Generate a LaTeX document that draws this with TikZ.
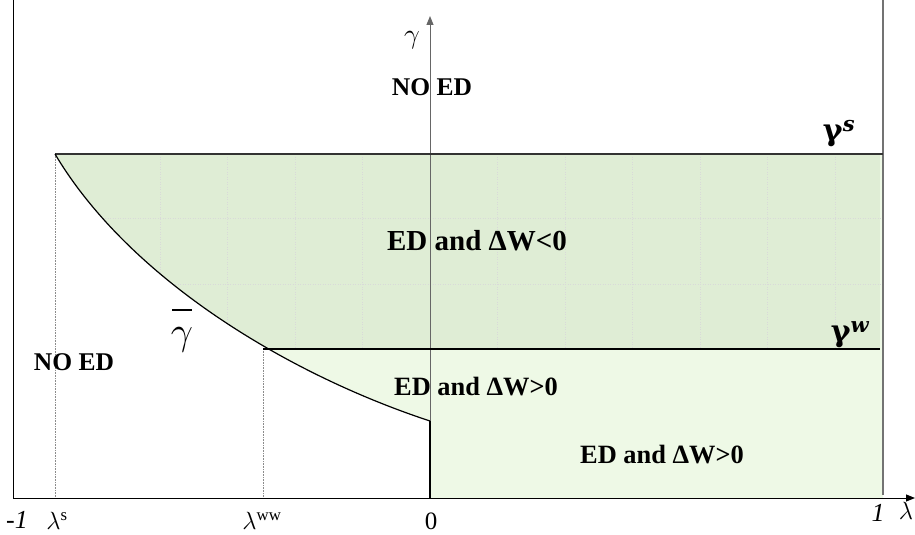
\documentclass[tikz,border=0pt]{standalone}
\usepackage{amsmath}
\usepackage{fontspec}
\usepackage{graphicx}
\setmainfont{Liberation Serif}
\newfontfamily\dvserif{DejaVu Serif}
\usetikzlibrary{arrows.meta}
\definecolor{lightg}{HTML}{EEF9E6}
\definecolor{dotg}{HTML}{DFEDD5}
\newcommand{\bigmath}[2]{\scalebox{#1}{\fontsize{20}{24}\selectfont$#2$}}
\begin{document}
\begin{tikzpicture}[x=1pt,y=-1pt,
  every node/.style={inner sep=0pt},
  bigl/.style={font=\bfseries\fontsize{29}{32}\selectfont},
  midl/.style={font=\bfseries\fontsize{26.4}{30}\selectfont},
  noed/.style={font=\bfseries\fontsize{25.5}{29}\selectfont},
  glab/.style={font=\dvserif\bfseries\fontsize{30}{32}\selectfont},
  gline/.style={line width=1.4pt, black!80},
  guide/.style={densely dotted, line width=0.6pt, black!45},
  grid/.style={dotted, line width=0.5pt, black!15},
  arr/.style={-{Triangle[length=9pt,width=7pt]}},
]
\useasboundingbox (0,0) rectangle (915,535);

% coordinates
\coordinate (ls) at (55,154);
\coordinate (rs) at (883,154);
\coordinate (lw) at (263,349);
\coordinate (rw) at (880,349);
\coordinate (ce) at (430,421);
\coordinate (o) at (430,498);
\coordinate (xa0) at (13,498);
\coordinate (xa1) at (915,498);
\coordinate (ya1) at (430,16);
\coordinate (lt) at (13,0);
\coordinate (rt) at (883,0);
\coordinate (rb) at (883,495);
\coordinate (lsb) at (55,498);
\coordinate (lwb) at (263,498);

% fills
\begin{scope}
  \clip (ls) .. controls (130,280) and (290,375) .. (ce) -- (o) -- (883,498) -- (rs) -- cycle;
  \fill[lightg] (0,0) rectangle (915,535);
  \fill[dotg] (ls) rectangle (rw);
  \foreach \xx in {160,227.5,295,362.5,497.5,565,632.5,700,767.5,835}
    \draw[grid] (\xx,154) -- (\xx,349);
  \foreach \yy in {218,284}
    \draw[grid] (55,\yy) -- (883,\yy);
\end{scope}

% frame lines
\draw[line width=1pt, black] (lt) -- (xa0);
\draw[line width=1.6pt, black!55] (rt) -- (rb);
\draw[guide] (ls) -- (lsb);
\draw[guide] (lw) -- (lwb);

% axes
\draw[line width=1pt, black, arr] (xa0) -- (xa1);
\draw[line width=1pt, black!60, arr] (o) -- (ya1);
\draw[line width=1.2pt, black] (ce) -- (o);

% curves and levels
\draw[gline] (ls) -- (rs);
\draw[line width=1.2pt, black] (lw) -- (rw);
\draw[line width=1.2pt, black] (ls) .. controls (130,280) and (290,375) .. (ce);

% labels
\node (gax) at (412,40) {\bigmath{1.35}{\gamma}};
\node[noed] (noed1) at (432,87) {NO ED};
\node[noed] (noed2) at (74,362) {NO ED};
\node[bigl] (r1) at (477,241) {ED and ΔW<0};
\node[midl] (r2) at (476,387) {ED and ΔW>0};
\node[midl] (r3) at (662,455) {ED and ΔW>0};
\node[glab] (gs) at (839,134) {γ\textsuperscript{\itshape s}};
\node[glab] (gw) at (850,335) {γ\textsuperscript{\itshape w}};
\node (gbar) at (182,340) {\bigmath{1.9}{\gamma}};
\draw[line width=1.3pt] (172,310) -- (192,310);
\node[font=\itshape\fontsize{26}{28}\selectfont] (m1) at (17,520) {-1};
\node (las) at (57,521) {\bigmath{1.2}{\lambda^{\mathrm{s}}}};
\node (law) at (262,521) {\bigmath{1.2}{\lambda^{\mathrm{ww}}}};
\node[font=\fontsize{25}{28}\selectfont] (zero) at (431,521) {0};
\node[font=\itshape\fontsize{26}{28}\selectfont] (one) at (878,513) {1};
\node (lam) at (906,511) {\bigmath{1.2}{\lambda}};
\end{tikzpicture}
\end{document}
